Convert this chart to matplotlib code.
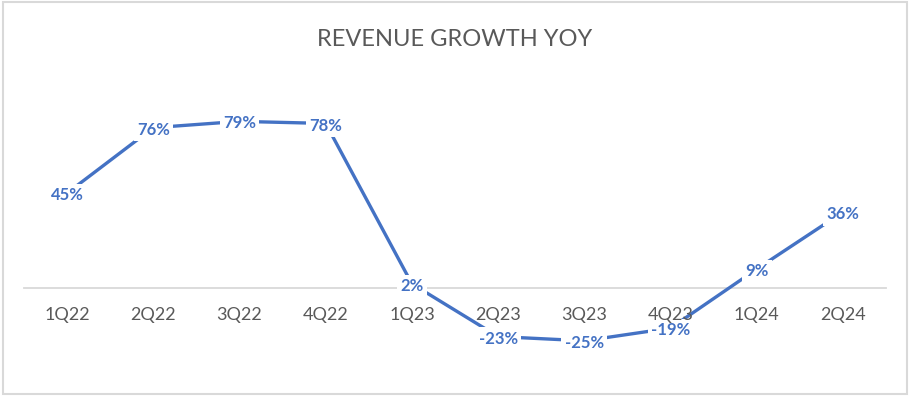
import matplotlib
matplotlib.use("Agg")
import matplotlib.pyplot as plt
from matplotlib.patches import Rectangle

##### Data #####
quarters = ["1Q22", "2Q22", "3Q22", "4Q22", "1Q23", "2Q23", "3Q23", "4Q23", "1Q24", "2Q24"]
growth = [45, 76, 79, 78, 2, -23, -25, -19, 9, 36]

line_color = "#4472C4"
text_gray = "#595959"
grid_gray = "#D9D9D9"

plt.rcParams['font.family'] = ['Lato', 'DejaVu Sans']

fig = plt.figure(figsize=(9.10, 3.96), dpi=100)

# outer chart border
fig.patches.append(Rectangle((0.003, 0.005), 0.994, 0.99, transform=fig.transFigure,
                             fill=False, edgecolor=grid_gray, linewidth=1.5))

ax = fig.add_axes([24 / 910, 36 / 396, 862 / 910, 280 / 396])
x = list(range(len(quarters)))
ax.plot(x, growth, color=line_color, linewidth=2.4, solid_capstyle='butt', zorder=2)

# data labels centred on the points, white box hides the line under them
for xi, v in zip(x, growth):
    ax.annotate(f"{v}%", (xi, v), xytext=(0, -1.5), textcoords='offset points',
                ha='center', va='center', fontsize=12, fontweight='bold',
                color=line_color, zorder=3,
                bbox=dict(boxstyle='square,pad=0.2', facecolor='white', edgecolor='none'))

ax.set_xlim(-0.5, len(quarters) - 0.5)
ax.set_ylim(-34.1, 98.6)

for s in ['top', 'left', 'right']:
    ax.spines[s].set_visible(False)
ax.spines['bottom'].set_position(('data', 0))
ax.spines['bottom'].set_color(grid_gray)
ax.spines['bottom'].set_linewidth(1.3)
ax.spines['bottom'].set_zorder(1)

ax.set_xticks(x)
ax.set_xticklabels(quarters, fontsize=13, color=text_gray)
ax.tick_params(axis='x', length=0, pad=14)
ax.set_yticks([])
# keep category labels above the label boxes (4Q23 / -19% sit close together)
ax.xaxis.set_zorder(3.5)

fig.text(0.5, 0.9, "REVENUE GROWTH YOY", ha='center', va='center', fontsize=17,
         color=text_gray)

fig.savefig("out.png", dpi=100)
